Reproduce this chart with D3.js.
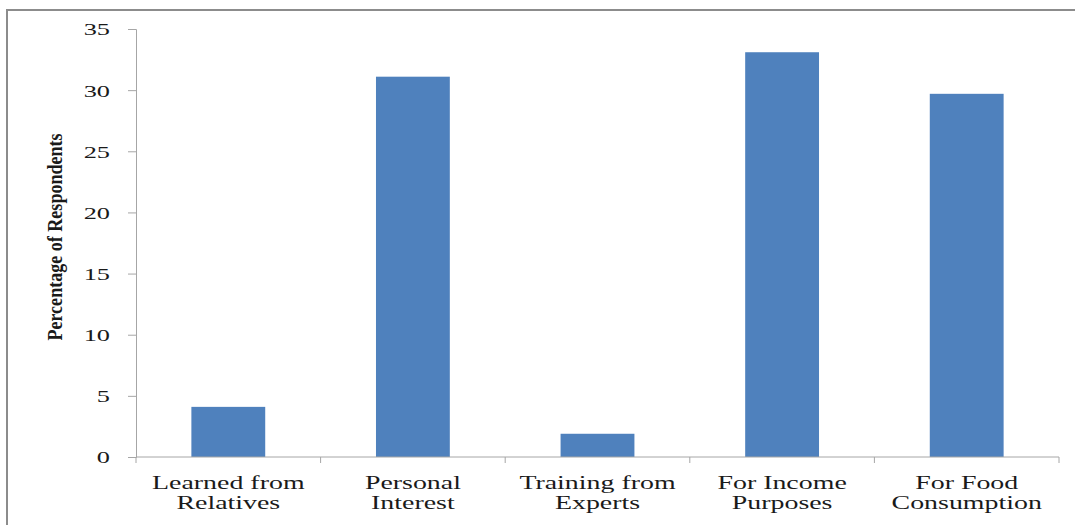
<!DOCTYPE html>
<html>
<head>
<meta charset="utf-8">
<script src="https://cdn.jsdelivr.net/npm/d3@7"></script>
<style>
  body { margin: 0; background: #fff; }
  svg { display: block; }
  text { font-family: "Liberation Serif", "Times New Roman", serif; fill: #1a1a1a; }
</style>
</head>
<body>
<svg id="chart" width="1075" height="525"></svg>
<script>
// data
const categories = [
    ["Learned from", "Relatives"],
    ["Personal", "Interest"],
    ["Training from", "Experts"],
    ["For Income", "Purposes"],
    ["For Food", "Consumption"]
]
const values = [4.1, 31.1, 1.9, 33.1, 29.7]
const yTicks = [0, 5, 10, 15, 20, 25, 30, 35]
const yTitle = "Percentage of Respondents"

const svg = d3.select("#chart")
const plotLeft = 136, plotRight = 1059, plotTop = 29, plotBottom = 457
const stretch = 1.55   // labels in the original are wide, stretched type

// outer frame, only left and top edges are visible
svg.append("rect")
    .attr("x", 7).attr("y", 10)
    .attr("width", 1100).attr("height", 560)
    .attr("fill", "none").attr("stroke", "#8c8c8c").attr("stroke-width", 2)

const keys = categories.map(c => c.join(" "))
const x = d3.scaleBand().domain(keys).range([plotLeft, plotRight]).paddingInner(0.6).paddingOuter(0.3)
const y = d3.scaleLinear().domain([0, 35]).range([plotBottom, plotTop])

//bars
svg.append("g").selectAll("rect")
    .data(values)
    .join("rect")
    .attr("x", (d, i) => x(keys[i]))
    .attr("y", d => y(d))
    .attr("width", x.bandwidth())
    .attr("height", d => y(0) - y(d))
    .attr("fill", "#4f81bd")

//y axis
const yAxis = svg.append("g")
    .attr("transform", `translate(${plotLeft},0)`)
    .call(d3.axisLeft(y).tickValues(yTicks).tickSize(8))
yAxis.select(".domain").attr("stroke", "#a6a6a6")
yAxis.selectAll(".tick line").attr("stroke", "#a6a6a6")
yAxis.selectAll(".tick text")
    .attr("x", 0).attr("dy", "0.35em")
    .attr("transform", `translate(-26,0) scale(${stretch},1)`)
    .style("font-size", "17px")
    .style("font-family", "Liberation Serif, serif")
    .attr("fill", "#1a1a1a")

//x axis line and separators between categories
const xAxis = svg.append("g")
    .attr("transform", `translate(0,${plotBottom})`)
xAxis.append("line")
    .attr("x1", plotLeft).attr("x2", plotRight)
    .attr("stroke", "#a6a6a6")
const sep = keys.map(k => x(k) - x.step() * x.paddingInner() / 2).concat([plotRight])
xAxis.selectAll(".sep")
    .data(sep)
    .join("line")
    .attr("class", "sep")
    .attr("x1", d => d).attr("x2", d => d)
    .attr("y1", 0).attr("y2", 6)
    .attr("stroke", "#a6a6a6")

//category labels, two lines each
const labels = svg.append("g").selectAll("text")
    .data(categories)
    .join("text")
    .attr("text-anchor", "middle")
    .attr("transform", (d, i) => `translate(${x(keys[i]) + x.bandwidth() / 2},489) scale(${stretch},1)`)
    .style("font-size", "18px")
    .style("font-family", "Liberation Serif, serif")
labels.selectAll("tspan")
    .data(d => d)
    .join("tspan")
    .attr("x", 0)
    .attr("y", (d, i) => i * 20)
    .text(d => d)

//y title, bold and a bit condensed
svg.append("text")
    .attr("transform", "translate(62,237) rotate(-90) scale(0.86,1)")
    .attr("text-anchor", "middle")
    .style("font-size", "21px")
    .style("font-weight", "bold")
    .text(yTitle)
</script>
</body>
</html>
